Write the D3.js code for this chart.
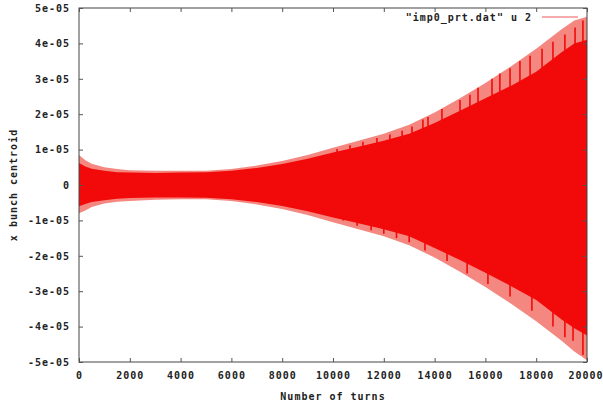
<!DOCTYPE html>
<html><head><meta charset="utf-8">
<script src="https://cdn.jsdelivr.net/npm/d3@7/dist/d3.min.js"></script>
<style>
body{margin:0;background:#fff;}
text{font-family:"DejaVu Sans Mono",monospace;font-weight:bold;font-size:10px;letter-spacing:1px;fill:#222;}
</style></head>
<body><svg id="c" width="603" height="403"></svg>
<script>
// Envelope of the x bunch centroid (units of 1e-05)
const turns      = [0,250,500,1000,1500,2000,3000,4000,5000,6000,7000,8000,9000,10000,11000,12000,13000,14000,15000,16000,17000,18000,19000,19500,20000];
const outerUpper = [0.85,0.7,0.6,0.5,0.45,0.42,0.4,0.4,0.4,0.45,0.55,0.68,0.85,1.05,1.25,1.45,1.7,2.05,2.45,2.88,3.35,3.85,4.4,4.65,4.75];
const outerLower = [-0.8,-0.72,-0.62,-0.52,-0.47,-0.45,-0.42,-0.4,-0.4,-0.45,-0.55,-0.68,-0.85,-1.05,-1.25,-1.45,-1.7,-2.05,-2.45,-2.88,-3.35,-3.85,-4.4,-4.7,-4.95];
const innerUpper = [0.62,0.52,0.46,0.4,0.36,0.35,0.34,0.35,0.36,0.4,0.48,0.59,0.74,0.92,1.08,1.25,1.45,1.75,2.1,2.45,2.8,3.2,3.75,4.0,4.1];
const innerLower = [-0.6,-0.54,-0.48,-0.43,-0.39,-0.37,-0.35,-0.35,-0.36,-0.4,-0.48,-0.59,-0.74,-0.92,-1.08,-1.25,-1.45,-1.78,-2.12,-2.48,-2.85,-3.25,-3.8,-4.05,-4.25];
// dark streaks reaching toward the edge
const upSpikeTurns  = [10160,10670,11180,11730,12240,12720,13110,13540,13740,14290,15000,15390,15710,16260,16570,16970,17360,17760,18230,18660,19130,19530,19840];
const upSpikeVals   = [1.02,1.12,1.22,1.33,1.43,1.53,1.65,1.85,1.92,2.15,2.4,2.55,2.75,3.0,3.15,3.3,3.5,3.65,3.85,4.05,4.25,4.45,4.65];
const loSpikeTurns  = [10400,10950,11500,12000,12500,13000,13620,14490,15280,16100,16970,17830,18660,19130,19450,19840];
const loSpikeVals   = [-1.0,-1.15,-1.28,-1.38,-1.5,-1.62,-1.85,-2.15,-2.5,-2.8,-3.15,-3.55,-4.0,-4.3,-4.4,-4.8];
const xTicks = [0,2000,4000,6000,8000,10000,12000,14000,16000,18000,20000];
const yTicks = [5,4,3,2,1,0,-1,-2,-3,-4,-5];
const yTickLabels = ["5e-05","4e-05","3e-05","2e-05","1e-05","0","-1e-05","-2e-05","-3e-05","-4e-05","-5e-05"];

const svg = d3.select("#c");
const L=79, R=587, T=8, B=362;
const x = d3.scaleLinear().domain([0,20000]).range([L,R]);
const y = d3.scaleLinear().domain([-5,5]).range([B,T]);
const core = "#f20a0a";

svg.append("clipPath").attr("id","clip").append("rect").attr("x",L).attr("y",T).attr("width",R-L).attr("height",B-T);
const g = svg.append("g").attr("clip-path","url(#clip)");

const idx = d3.range(turns.length);
g.append("path").datum(idx)
  .attr("d", d3.area().x(i=>x(turns[i])).y0(i=>y(outerLower[i])).y1(i=>y(outerUpper[i])))
  .attr("fill","#f4877f");
g.append("path").datum(idx)
  .attr("d", d3.area().x(i=>x(turns[i])).y0(i=>y(innerLower[i])).y1(i=>y(innerUpper[i])))
  .attr("fill",core);

g.selectAll(".us").data(upSpikeTurns).enter().append("line")
  .attr("x1",d=>x(d)).attr("x2",d=>x(d))
  .attr("y1",y(0)).attr("y2",(d,i)=>y(upSpikeVals[i]))
  .attr("stroke",core).attr("stroke-width",1.6);
g.selectAll(".ls").data(loSpikeTurns).enter().append("line")
  .attr("x1",d=>x(d)).attr("x2",d=>x(d))
  .attr("y1",y(0)).attr("y2",(d,i)=>y(loSpikeVals[i]))
  .attr("stroke",core).attr("stroke-width",1.6);

// border
svg.append("rect").attr("x",L).attr("y",T).attr("width",R-L).attr("height",B-T)
  .attr("fill","none").attr("stroke","#444").attr("stroke-width",1);

// ticks (inward, on all sides) via axes
const axB = svg.append("g").attr("transform",`translate(0,${B})`)
  .call(d3.axisBottom(x).tickValues(xTicks).tickSize(-4).tickPadding(10).tickFormat(d3.format("d")));
const axT = svg.append("g").attr("transform",`translate(0,${T})`)
  .call(d3.axisTop(x).tickValues(xTicks).tickSize(-4).tickFormat(""));
const axL = svg.append("g").attr("transform",`translate(${L},0)`)
  .call(d3.axisLeft(y).tickValues(yTicks).tickSize(-4).tickPadding(9).tickFormat((d,i)=>yTickLabels[i]));
const axR = svg.append("g").attr("transform",`translate(${R},0)`)
  .call(d3.axisRight(y).tickValues(yTicks).tickSize(-4).tickFormat(""));
[axB,axT,axL,axR].forEach(a=>{
  a.select(".domain").remove();
  a.selectAll(".tick line").attr("stroke","#555");
  a.selectAll("text").attr("font-family",null).attr("font-size",null).attr("fill","#222");
});
// keep the last x label inside the window
axB.selectAll(".tick text").filter(d=>d===20000).attr("text-anchor","end").attr("dx","16");

svg.append("text").attr("x",(L+R)/2).attr("y",400).attr("text-anchor","middle").text("Number of turns");
svg.append("text").attr("transform","translate(17,185) rotate(-90)").attr("text-anchor","middle").text("x bunch centroid");

// legend
svg.append("text").attr("x",532).attr("y",21).attr("text-anchor","end").text('"imp0_prt.dat" u 2');
svg.append("line").attr("x1",542).attr("x2",578).attr("y1",17).attr("y2",17).attr("stroke","#ee5a5a").attr("stroke-width",1.2);
</script></body></html>
